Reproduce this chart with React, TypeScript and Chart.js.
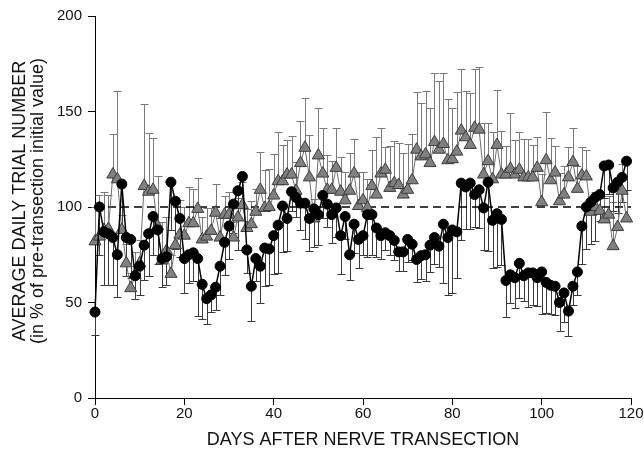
import React, { useEffect, useRef } from "react";
import { Chart, registerables } from "chart.js";

Chart.register(...registerables);

const DAYS = [
  0, 1, 2, 3, 4, 5, 6, 7, 8, 9, 10, 11, 12, 13, 14, 15, 16, 17, 18, 19,
  20, 21, 22, 23, 24, 25, 26, 27, 28, 29, 30, 31, 32, 33, 34, 35, 36, 37, 38, 39,
  40, 41, 42, 43, 44, 45, 46, 47, 48, 49, 50, 51, 52, 53, 54, 55, 56, 57, 58, 59,
  60, 61, 62, 63, 64, 65, 66, 67, 68, 69, 70, 71, 72, 73, 74, 75, 76, 77, 78, 79,
  80, 81, 82, 83, 84, 85, 86, 87, 88, 89, 90, 91, 92, 93, 94, 95, 96, 97, 98, 99,
  100, 101, 102, 103, 104, 105, 106, 107, 108, 109, 110, 111, 112, 113, 114, 115, 116, 117, 118, 119,
];

const CIRCLE_MEAN = [
  45, 100, 87, 86, 84, 75, 112, 84, 83, 64,
  69, 80, 86, 95, 88, 73, 74, 113, 103, 94,
  73, 75, 76, 73, 59.5, 52, 54, 58, 69, 81.5,
  90, 101.5, 108.5, 116, 77.5, 58.5, 73, 69, 78.5, 78,
  85, 90.5, 100.5, 94, 108, 105, 102, 102, 94, 99,
  96, 106, 101.5, 96, 99.5, 85, 95, 75, 91, 83,
  85, 96, 96, 89, 85, 86.5, 85, 82.5, 76.5, 76.5,
  83, 80.5, 72.5, 74.5, 75, 80, 84, 79.5, 91, 84,
  88, 87, 112.5, 110.5, 112.5, 106.5, 109, 99.5, 113, 93,
  96.5, 93.5, 61.5, 64.5, 63, 70.5, 64, 65.5, 65.5, 63,
  66, 60.5, 59, 58.5, 50, 55, 45.5, 58.5, 66, 90,
  100, 102.5, 105, 106.5, 121.5, 122, 110, 113, 115.5, 124,
];

const CIRCLE_ERR = [
  12, 25, 28, 27, 25, 22, 25, 20, 20, 12,
  15, 18, 22, 20, 18, 15, 15, 25, 25, 20,
  18, 15, 15, 30, 18, 13, 9, 12, 15, 17,
  17, 15, 31, 15, 12, 18, 12, 19, 20, 19,
  20, 25, 24, 17, 10, 10, 14, 19, 17, 20,
  16, 12, 12, 15, 15, 20, 12, 13, 15, 15,
  10, 22, 21, 15, 12, 9, 10, 10, 10, 10,
  12, 8, 12, 12, 14, 14, 14, 11, 31, 30,
  33, 24, 30, 22, 24, 17, 20, 22, 36, 25,
  28, 24, 19, 15, 16, 18, 13, 18, 17, 15,
  22, 16, 15, 15, 15, 15, 13, 10, 12, 20,
  22, 22, 23, 14, 17, 15, 12, 16, 13, 15,
];

const TRI_MEAN = [
  82, 84.5, 88, 88.5, 117, 114.5, 88, 70.5, 57.5, 64.5,
  70.5, 111, 108, 109, 90, 72, 77, 65, 80, 85.5,
  85, 91.5, 91.5, 99, 83, 84.5, 87.5, 97, 84, 96,
  96, 84, 94.5, 101, 89, 91, 97.5, 109, 99.5, 100,
  106, 113.5, 113.5, 117, 117, 108.5, 123, 131, 115.5, 94,
  127, 117.5, 109, 109, 120.5, 108, 103.5, 108.5, 117.5, 100.5,
  103.5, 99.5, 111, 106.5, 117.5, 119.5, 110, 112.5, 111.5, 106.5,
  109, 114, 130, 126.5, 127.5, 123, 134, 130, 133, 124.5,
  125, 129, 140, 136.5, 132.5, 141.5, 140.5, 117, 124, 114.5,
  132.5, 117, 117, 120, 117, 119.5, 115.5, 115.5, 115.5, 120.5,
  102.5, 124.5, 114, 118, 103, 106.5, 115.5, 123.5, 109.5, 116.5,
  116, 97.5, 100, 98, 93.5, 96, 79.5, 89.5, 108.5, 94,
];

const TRI_ERR = [
  18, 22, 20, 18, 21, 46, 8, 10, 8, 12,
  12, 43, 31, 27, 26, 20, 18, 10, 25, 18,
  15, 19, 18, 16, 12, 15, 12, 15, 10, 10,
  12, 8, 10, 12, 10, 12, 12, 20, 20, 20,
  22, 26, 19, 18, 20, 15, 22, 26, 22, 10,
  25, 24, 18, 15, 21, 18, 15, 20, 18, 18,
  15, 15, 19, 30, 24, 12, 22, 22, 22, 22,
  24, 24, 30, 28, 33, 29, 36, 36, 37, 32,
  27, 31, 32, 24, 27, 31, 33, 27, 20, 25,
  29, 23, 15, 29, 18, 20, 20, 20, 17, 16,
  15, 25, 22, 14, 15, 15, 16, 18, 12, 15,
  14, 8, 8, 10, 12, 10, 23, 11, 14, 15,
];

const REFERENCE_LINE = [0, 120];
const REFERENCE_VALUE = 100;

const X_TITLE = "DAYS AFTER NERVE TRANSECTION";
const Y_TITLE = ["AVERAGE DAILY TRIAL NUMBER", "(in % of pre-transection initial value)"];

const FONT_FAMILY = 'Arial, "Liberation Sans", Helvetica, sans-serif';

const errorBarPlugin = {
  id: "errorBars",
  beforeDatasetsDraw(chart: any) {
    const { ctx } = chart;
    const x = chart.scales.x;
    const y = chart.scales.y;
    const draw = (vals: number[], errs: number[], dir: number, color: string) => {
      ctx.save();
      ctx.strokeStyle = color;
      ctx.lineWidth = 1;
      ctx.beginPath();
      DAYS.forEach((d, i) => {
        const px = Math.round(x.getPixelForValue(d)) + 0.5;
        const y0 = y.getPixelForValue(vals[i]);
        const y1 = Math.round(y.getPixelForValue(vals[i] + dir * errs[i])) + 0.5;
        ctx.moveTo(px, y0);
        ctx.lineTo(px, y1);
        ctx.moveTo(px - 4, y1);
        ctx.lineTo(px + 4, y1);
      });
      ctx.stroke();
      ctx.restore();
    };
    draw(TRI_MEAN, TRI_ERR, 1, "#7a7a7a");
    draw(CIRCLE_MEAN, CIRCLE_ERR, -1, "#3a3a3a");
  },
};

const yTitlePlugin = {
  id: "yTitle",
  afterDraw(chart: any) {
    const { ctx } = chart;
    ctx.save();
    ctx.fillStyle = "#111";
    ctx.font = `18px ${FONT_FAMILY}`;
    ctx.textAlign = "center";
    ctx.textBaseline = "middle";
    const cx = [20.5, 38.5];
    Y_TITLE.forEach((t, i) => {
      ctx.save();
      ctx.translate(cx[i], 201);
      ctx.rotate(-Math.PI / 2);
      ctx.fillText(t, 0, 0);
      ctx.restore();
    });
    ctx.restore();
  },
};

export default function App() {
  const ref = useRef<HTMLCanvasElement | null>(null);

  useEffect(() => {
    if (!ref.current) return;
    const chart = new Chart(ref.current, {
      type: "line",
      data: {
        datasets: [
          {
            label: "circles",
            data: DAYS.map((d, i) => ({ x: d, y: CIRCLE_MEAN[i] })),
            borderColor: "#000",
            borderWidth: 1.5,
            backgroundColor: "#000",
            pointStyle: "circle",
            pointRadius: 5,
            pointBorderWidth: 1,
            pointBorderColor: "#000",
            pointBackgroundColor: "#000",
            tension: 0,
            clip: false,
          },
          {
            label: "triangles",
            data: DAYS.map((d, i) => ({ x: d, y: TRI_MEAN[i] })),
            borderColor: "#6e6e6e",
            borderWidth: 1,
            backgroundColor: "#808080",
            pointStyle: "triangle",
            pointRadius: 7,
            pointBorderWidth: 1,
            pointBorderColor: "#3c3c3c",
            pointBackgroundColor: "#808080",
            tension: 0,
            clip: false,
          },
          {
            label: "reference",
            data: REFERENCE_LINE.map((d) => ({ x: d, y: REFERENCE_VALUE })),
            borderColor: "#000",
            borderWidth: 1.5,
            borderDash: [8, 5],
            pointRadius: 0,
            tension: 0,
            clip: false,
          },
        ],
      },
      options: {
        responsive: false,
        animation: false,
        events: [],
        layout: { padding: { top: 16, right: 13, left: 0, bottom: 0 } },
        plugins: {
          legend: { display: false },
          tooltip: { enabled: false },
        },
        scales: {
          x: {
            type: "linear",
            min: 0,
            max: 120,
            afterFit(scale: any) {
              scale.height = 58;
            },
            ticks: {
              stepSize: 20,
              color: "#111",
              padding: 0,
              font: { family: FONT_FAMILY, size: 15 },
            },
            grid: {
              display: true,
              drawOnChartArea: false,
              drawTicks: true,
              tickLength: 7,
              color: "#000",
            },
            border: { display: true, color: "#000", width: 1 },
            title: {
              display: true,
              text: X_TITLE,
              color: "#111",
              font: { family: FONT_FAMILY, size: 18 },
              padding: { top: 0, bottom: 5 },
            },
          },
          y: {
            type: "linear",
            min: 0,
            max: 200,
            afterFit(scale: any) {
              scale.width = 95;
            },
            ticks: {
              stepSize: 50,
              color: "#111",
              padding: 6,
              font: { family: FONT_FAMILY, size: 15 },
            },
            grid: {
              display: true,
              drawOnChartArea: false,
              drawTicks: true,
              tickLength: 7,
              color: "#000",
            },
            border: { display: true, color: "#000", width: 1 },
          },
        },
      },
      plugins: [errorBarPlugin, yTitlePlugin],
    });
    return () => chart.destroy();
  }, []);

  return (
    <div style={{ position: "fixed", left: 0, top: 0, width: 644, height: 456, background: "#fff" }}>
      <canvas ref={ref} width={644} height={456} style={{ display: "block" }} />
    </div>
  );
}
